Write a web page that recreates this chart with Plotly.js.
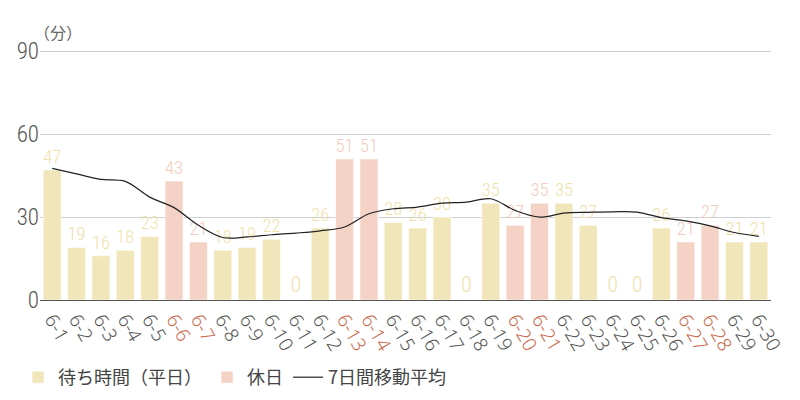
<!DOCTYPE html>
<html>
<head>
<meta charset="utf-8">
<script src="https://cdn.plot.ly/plotly-3.0.1.min.js"></script>
<style>
  body { margin: 0; background: #fff; }
  #chart { width: 800px; height: 400px; }
</style>
</head>
<body>
<div id="chart"></div>
<script>
const days = ['6-1', '6-2', '6-3', '6-4', '6-5', '6-6', '6-7', '6-8', '6-9', '6-10',
  '6-11', '6-12', '6-13', '6-14', '6-15', '6-16', '6-17', '6-18', '6-19', '6-20',
  '6-21', '6-22', '6-23', '6-24', '6-25', '6-26', '6-27', '6-28', '6-29', '6-30'];
const waitMinutes = [47, 19, 16, 18, 23, 43, 21, 18, 19, 22, 0, 26, 51, 51, 28,
  26, 30, 0, 35, 27, 35, 35, 27, 0, 0, 26, 21, 27, 21, 21];
const holidays = ['6-6', '6-7', '6-13', '6-14', '6-20', '6-21', '6-27', '6-28'];
const movingAvg = [47.6, 45.6, 43.6, 42.9, 37.2, 33.4, 27.0, 22.6, 22.8, 23.6,
  24.2, 25.0, 26.4, 31.2, 33.0, 33.6, 35.0, 35.4, 36.6, 32.4, 30.0, 31.4, 31.7,
  31.9, 31.8, 29.8, 28.6, 26.8, 24.4, 23.0];

const colWeekday = '#f1e6b9';
const colHoliday = '#f5d2c6';
const colHolidayTick = '#c9694c';
const condFamily = '"Roboto Condensed", Roboto, sans-serif';
const tickFamily = '"Noto Sans", Roboto, sans-serif';
const cjkFamily = '"Noto Sans CJK JP", sans-serif';

const isHoliday = d => holidays.includes(d);
const weekdayVals = days.map((d, i) => isHoliday(d) ? null : waitMinutes[i]);
const holidayVals = days.map((d, i) => isHoliday(d) ? waitMinutes[i] : null);
const tickText = days.map(d => isHoliday(d)
  ? '<span style="color:' + colHolidayTick + '">' + d + '</span>' : d);

const barCommon = {
  x: days,
  type: 'bar',
  texttemplate: '%{y}',
  textposition: 'outside',
  cliponaxis: false,
  hoverinfo: 'skip'
};

const traces = [
  Object.assign({}, barCommon, {
    y: weekdayVals,
    name: '待ち時間（平日）',
    marker: { color: colWeekday, line: { color: 'rgba(255,255,255,0.6)', width: 1 } },
    textfont: { color: '#f0e1ab', size: 22, family: condFamily, weight: 300 }
  }),
  Object.assign({}, barCommon, {
    y: holidayVals,
    name: '休日',
    marker: { color: colHoliday, line: { color: 'rgba(255,255,255,0.6)', width: 1 } },
    textfont: { color: '#f3cbbd', size: 22, family: condFamily, weight: 300 }
  }),
  {
    x: days,
    y: movingAvg,
    type: 'scatter',
    mode: 'lines',
    name: '7日間移動平均',
    line: { color: '#222', width: 1.2, shape: 'spline' },
    hoverinfo: 'skip'
  }
];

const layout = {
  width: 800,
  height: 400,
  margin: { l: 40, r: 29, t: 50, b: 100, autoexpand: false },
  paper_bgcolor: '#fff',
  plot_bgcolor: '#fff',
  barmode: 'overlay',
  bargap: 0.26,
  font: { family: condFamily, color: '#555' },
  xaxis: {
    type: 'category',
    tickvals: days,
    ticktext: tickText,
    tickangle: 60,
    tickfont: { size: 19, color: '#555', family: tickFamily, weight: 300 },
    ticks: '',
    showgrid: false,
    showline: true,
    linecolor: '#555',
    linewidth: 1,
    automargin: false,
    fixedrange: true
  },
  yaxis: {
    range: [0, 90.4],
    tickvals: [0, 30, 60, 90],
    tickfont: { size: 23, color: '#555', family: condFamily, weight: 300 },
    ticks: '',
    showgrid: true,
    gridcolor: '#cfcfcf',
    gridwidth: 1,
    zeroline: false,
    showline: false,
    automargin: false,
    fixedrange: true
  },
  showlegend: true,
  legend: {
    orientation: 'h',
    x: -0.03,
    xanchor: 'left',
    y: -0.31,
    yanchor: 'middle',
    font: { size: 18, color: '#444', family: cjkFamily },
    itemwidth: 30,
    traceorder: 'normal'
  },
  annotations: [{
    text: '（分）',
    xref: 'paper',
    yref: 'paper',
    x: 0,
    y: 1,
    xanchor: 'left',
    yanchor: 'bottom',
    yshift: 4,
    xshift: -8,
    showarrow: false,
    font: { size: 16, color: '#666', family: cjkFamily }
  }]
};

Plotly.newPlot('chart', traces, layout, { displayModeBar: false, staticPlot: true });
</script>
</body>
</html>
